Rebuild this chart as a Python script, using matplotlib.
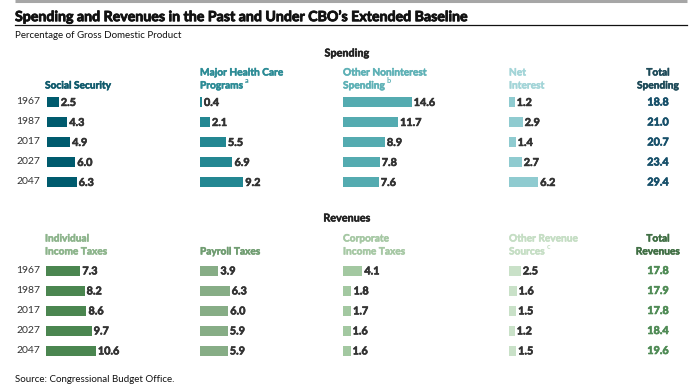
import matplotlib
matplotlib.use("Agg")
import matplotlib.pyplot as plt
import matplotlib.patheffects as pe

plt.rcParams['font.family'] = ['Lato', 'DejaVu Sans']

years = ["1967", "1987", "2017", "2027", "2047"]

# spending, percent of GDP
social_security = [2.5, 4.3, 4.9, 6.0, 6.3]
health_care = [0.4, 2.1, 5.5, 6.9, 9.2]
other_noninterest = [14.6, 11.7, 8.9, 7.8, 7.6]
net_interest = [1.2, 2.9, 1.4, 2.7, 6.2]
total_spending = [18.8, 21.0, 20.7, 23.4, 29.4]

# revenues, percent of GDP
income_taxes = [7.3, 8.2, 8.6, 9.7, 10.6]
payroll_taxes = [3.9, 6.3, 6.0, 5.9, 5.9]
corporate_taxes = [4.1, 1.8, 1.7, 1.6, 1.6]
other_revenue = [2.5, 1.6, 1.5, 1.2, 1.5]
total_revenues = [17.8, 17.9, 17.8, 18.4, 19.6]

W, H = 696, 387
PX = 4.7  # pixels per percentage point
fig = plt.figure(figsize=(W / 100, H / 100), dpi=100)
ov = fig.add_axes([0, 0, 1, 1])
ov.set_xlim(0, W)
ov.set_ylim(H, 0)
ov.axis("off")

dark = "#333333"


def heavy(color, lw=0.45):
    return [pe.withStroke(linewidth=lw, foreground=color)]


# top rule, title, underline
ov.plot([15, 687], [1, 1], color="#a6a6a6", lw=2.2, solid_capstyle="butt")
ov.text(15, 17, "Spending and Revenues in the Past and Under CBO\u2019s Extended Baseline",
        fontsize=10.2, fontweight="bold", color="#111111", va="center", ha="left",
        path_effects=heavy("#111111", 0.6))
ov.plot([15, 687], [24.5, 24.5], color="#111111", lw=0.9)
ov.text(15, 35, "Percentage of Gross Domestic Product", fontsize=7.0, color="#111111",
        va="center", ha="left")
ov.text(15, 379, "Source: Congressional Budget Office.", fontsize=7.0, color="#111111",
        va="center", ha="left")


def header(x, y, lines, color, sup=None, ha="left"):
    t = None
    for i, line in enumerate(lines):
        t = ov.text(x, y + i * 13, line, fontsize=7.3, fontweight="bold", color=color,
                    va="center", ha=ha, path_effects=heavy(color, 0.35))
    if sup:
        ov.annotate(sup, xy=(1, 0.75), xycoords=t, xytext=(1.0, 0), textcoords="offset points",
                    fontsize=5.2, fontweight="bold", color=color, va="bottom", ha="left")


def bar_column(x, ytop, values, color):
    ax = fig.add_axes([x / W, 1 - (ytop + 100) / H, 140 / W, 100 / H])
    ax.barh(range(len(values)), values, height=0.5, color=color)
    ax.set_xlim(0, 140 / PX)
    ax.set_ylim(len(values) - 0.5, -0.5)
    ax.axis("off")
    for i, v in enumerate(values):
        ax.annotate(f"{v:.1f}", xy=(v, i), xytext=(1.5, -0.3), textcoords="offset points",
                    fontsize=7.8, fontweight="bold", color=dark, va="center", ha="left",
                    path_effects=heavy(dark))


def year_labels(y0):
    for i, yr in enumerate(years):
        ov.text(16, y0 + i * 20, yr, fontsize=7.5, color=dark, va="center", ha="left")


def totals(y0, values, color):
    for i, v in enumerate(values):
        ov.text(658, y0 + i * 20, f"{v:.1f}", fontsize=7.8, fontweight="bold", color=color,
                va="center", ha="center", path_effects=heavy(color))


# Spending block
ov.text(347, 53, "Spending", fontsize=7.8, fontweight="bold", color="#222222",
        va="center", ha="center", path_effects=heavy("#222222", 0.35))
header(45, 86, ["Social Security"], "#0f5a6c")
header(200, 73, ["Major Health Care", "Programs"], "#2b8b95", sup="a")
header(343, 73, ["Other Noninterest", "Spending"], "#5eb1b6", sup="b")
header(509, 73, ["Net", "Interest"], "#a3d5d8")
header(658, 73, ["Total", "Spending"], "#1d4a58", ha="center")
year_labels(102)
bar_column(47, 92, social_security, "#005b6e")
bar_column(200, 92, health_care, "#238792")
bar_column(343, 92, other_noninterest, "#54abb0")
bar_column(509, 92, net_interest, "#8fcbd0")
totals(102, total_spending, "#17506a")

# Revenues block
ov.text(347, 218, "Revenues", fontsize=7.8, fontweight="bold", color="#222222",
        va="center", ha="center", path_effects=heavy("#222222", 0.35))
header(45, 239, ["Individual", "Income Taxes"], "#8cb48b")
header(200, 252, ["Payroll Taxes"], "#6f9c70")
header(343, 239, ["Corporate", "Income Taxes"], "#a6c8a4")
header(509, 239, ["Other Revenue", "Sources"], "#c5dec4", sup="c")
header(658, 239, ["Total", "Revenues"], "#3f6e43", ha="center")
year_labels(270.5)
bar_column(46, 260.5, income_taxes, "#4b8650")
bar_column(200, 260.5, payroll_taxes, "#87ad86")
bar_column(343, 260.5, corporate_taxes, "#a3c8a1")
bar_column(509, 260.5, other_revenue, "#c9e1c8")
totals(270.5, total_revenues, "#4f8b55")

fig.savefig("out.png", dpi=100)
plt.close(fig)
